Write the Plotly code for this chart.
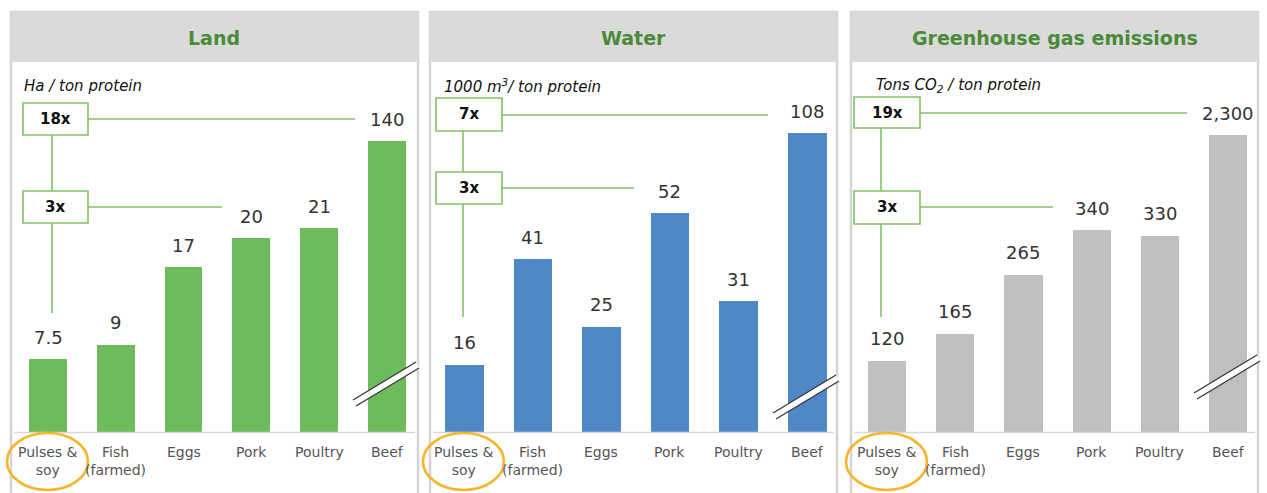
import plotly.graph_objects as go

# ---- data -------------------------------------------------------------
categories = ["Pulses &<br>soy", "Fish<br>(farmed)", "Eggs", "Pork", "Poultry", "Beef"]
land_ha = [7.5, 9, 17, 20, 21, 140]
water_km3 = [16, 41, 25, 52, 31, 108]
ghg_tons = [120, 165, 265, 340, 330, 2300]

panel_titles = ["Land", "Water", "Greenhouse gas emissions"]
panel_units = [
    "<i>Ha / ton protein</i>",
    "<i>1000 m<sup>3</sup>/ ton protein</i>",
    "<i>Tons CO<sub>2</sub> / ton protein</i>",
]
top_multiples = ["18x", "7x", "19x"]
mid_multiples = ["3x", "3x", "3x"]

# ---- page geometry (pixels) ------------------------------------------
W, H = 1267, 493
BASE = 432  # baseline of the bars


def px(x):
    return x / W


def py(y):
    return 1 - y / H


FONT = "DejaVu Sans"
GREEN_LINE = "#82c267"
ORANGE = "#f6b52a"

panels = [
    dict(values=land_ha, color="#6dbb5b", left=11, c0=48, c5=387, top=141, ymax=30,
         unit_x=22, box_x=(23, 88), box1_y=(103, 135), line1=(355, 119),
         box2_y=(191, 223), line2=(222, 207), vx=52, vend=313, brk_y=381),
    dict(values=water_km3, color="#4f87c7", left=430, c0=464, c5=807, top=133, ymax=71,
         unit_x=442, box_x=(436, 502), box1_y=(98, 131), line1=(768, 115),
         box2_y=(172, 204), line2=(634, 188), vx=463, vend=317, brk_y=394),
    dict(values=ghg_tons, color="#bfbfbf", left=851, c0=887, c5=1228, top=135, ymax=500,
         unit_x=874, box_x=(854, 920), box1_y=(97, 128), line1=(1187, 113),
         box2_y=(191, 224), line2=(1053, 207), vx=881, vend=317, brk_y=374),
]
PANEL_W = 407

fig = go.Figure()
shapes = []
annotations = []
layout_axes = {}

for k, p in enumerate(panels):
    sfx = "" if k == 0 else str(k + 1)
    xa, ya = "x" + sfx, "y" + sfx
    sp = (p["c5"] - p["c0"]) / 5
    left, right = p["left"], p["left"] + PANEL_W

    # panel frame and grey header band
    shapes.append(dict(type="rect", xref="paper", yref="paper", layer="below",
                       x0=px(left), x1=px(right), y0=py(497), y1=py(12),
                       fillcolor="white", line=dict(color="#d4d4d4", width=2.5)))
    shapes.append(dict(type="rect", xref="paper", yref="paper", layer="below",
                       x0=px(left), x1=px(right), y0=py(62), y1=py(12),
                       fillcolor="#dadada", line=dict(width=0)))
    # baseline
    shapes.append(dict(type="line", xref="paper", yref="paper", layer="above",
                       x0=px(left + 3), x1=px(right - 3), y0=py(BASE + 0.5), y1=py(BASE + 0.5),
                       line=dict(color="#d8d8d8", width=1.5)))

    fig.add_trace(go.Bar(
        x=list(range(6)), y=p["values"], xaxis=xa, yaxis=ya,
        marker=dict(color=p["color"], line=dict(width=0)),
        width=0.56, hoverinfo="skip", showlegend=False, cliponaxis=True,
    ))

    layout_axes["xaxis" + sfx] = dict(
        domain=[px(p["c0"] - sp / 2), px(p["c5"] + sp / 2)],
        range=[-0.5, 5.5], visible=False, anchor=ya, fixedrange=True)
    layout_axes["yaxis" + sfx] = dict(
        domain=[py(BASE), py(p["top"])], range=[0, p["ymax"]],
        visible=False, anchor=xa, fixedrange=True)

    # value labels above each bar, category labels under the baseline
    for i, v in enumerate(p["values"]):
        annotations.append(dict(
            x=i, y=min(v, p["ymax"]), xref=xa, yref=ya, yshift=22,
            text=f"{v:,g}", showarrow=False, xanchor="center", yanchor="middle",
            font=dict(family=FONT, size=18, color="#333333")))
        annotations.append(dict(
            x=i, y=py(442), xref=xa, yref="paper", xanchor="center", yanchor="top",
            text=categories[i], showarrow=False,
            font=dict(family=FONT, size=14, color="#555555")))

    # title and unit
    annotations.append(dict(
        x=px((left + right) / 2), y=py(38), xref="paper", yref="paper",
        text=f"<b>{panel_titles[k]}</b>", showarrow=False,
        xanchor="center", yanchor="middle",
        font=dict(family=FONT, size=19, color="#4a8a38")))
    annotations.append(dict(
        x=px(p["unit_x"]), y=py(86), xref="paper", yref="paper", xanchor="left",
        text=panel_units[k], showarrow=False, yanchor="middle",
        font=dict(family=FONT, size=15, color="#111111")))

    # multiplier boxes with connectors
    bx0, bx1 = p["box_x"]
    for (by0, by1), (lx, ly), txt in ((p["box1_y"], p["line1"], top_multiples[k]),
                                      (p["box2_y"], p["line2"], mid_multiples[k])):
        shapes.append(dict(type="line", xref="paper", yref="paper",
                           x0=px(bx1), x1=px(lx), y0=py(ly), y1=py(ly),
                           line=dict(color=GREEN_LINE, width=1.6)))
        shapes.append(dict(type="rect", xref="paper", yref="paper",
                           x0=px(bx0), x1=px(bx1), y0=py(by1), y1=py(by0),
                           fillcolor="white", line=dict(color=GREEN_LINE, width=1.6)))
        annotations.append(dict(
            x=px((bx0 + bx1) / 2), y=py((by0 + by1) / 2), xref="paper", yref="paper",
            text=f"<b>{txt}</b>", showarrow=False, xanchor="center", yanchor="middle",
            font=dict(family=FONT, size=15, color="#111111")))
    # vertical connectors
    shapes.append(dict(type="line", xref="paper", yref="paper",
                       x0=px(p["vx"]), x1=px(p["vx"]),
                       y0=py(p["box1_y"][1]), y1=py(p["box2_y"][0]),
                       line=dict(color=GREEN_LINE, width=1.6)))
    shapes.append(dict(type="line", xref="paper", yref="paper",
                       x0=px(p["vx"]), x1=px(p["vx"]),
                       y0=py(p["box2_y"][1]), y1=py(p["vend"]),
                       line=dict(color=GREEN_LINE, width=1.6)))

    # axis-break mark across the beef bar
    cx, cy = p["c5"], p["brk_y"]
    a0, a1 = (cx - 34, cy + 19), (cx + 29, cy - 19)
    b0, b1 = (a0[0] + 3, a0[1] + 6), (a1[0] + 3, a1[1] + 6)
    path = (f"M {px(a0[0])},{py(a0[1])} L {px(a1[0])},{py(a1[1])} "
            f"L {px(b1[0])},{py(b1[1])} L {px(b0[0])},{py(b0[1])} Z")
    shapes.append(dict(type="path", xref="paper", yref="paper", path=path,
                       fillcolor="white", line=dict(width=0)))
    for s0, s1 in ((a0, a1), (b0, b1)):
        shapes.append(dict(type="line", xref="paper", yref="paper",
                           x0=px(s0[0]), y0=py(s0[1]), x1=px(s1[0]), y1=py(s1[1]),
                           line=dict(color="#3a3a3a", width=1.4)))

    # highlight ring around the first category label
    ex = p["c0"] - 0.5
    shapes.append(dict(type="circle", xref="paper", yref="paper",
                       x0=px(ex - 40.5), x1=px(ex + 40.5), y0=py(490), y1=py(433),
                       line=dict(color=ORANGE, width=2.6)))

fig.update_layout(
    width=W, height=H, margin=dict(l=0, r=0, t=0, b=0),
    paper_bgcolor="white", plot_bgcolor="rgba(0,0,0,0)",
    showlegend=False, bargap=0, shapes=shapes, annotations=annotations,
    **layout_axes,
)

fig.write_html("out.html")
